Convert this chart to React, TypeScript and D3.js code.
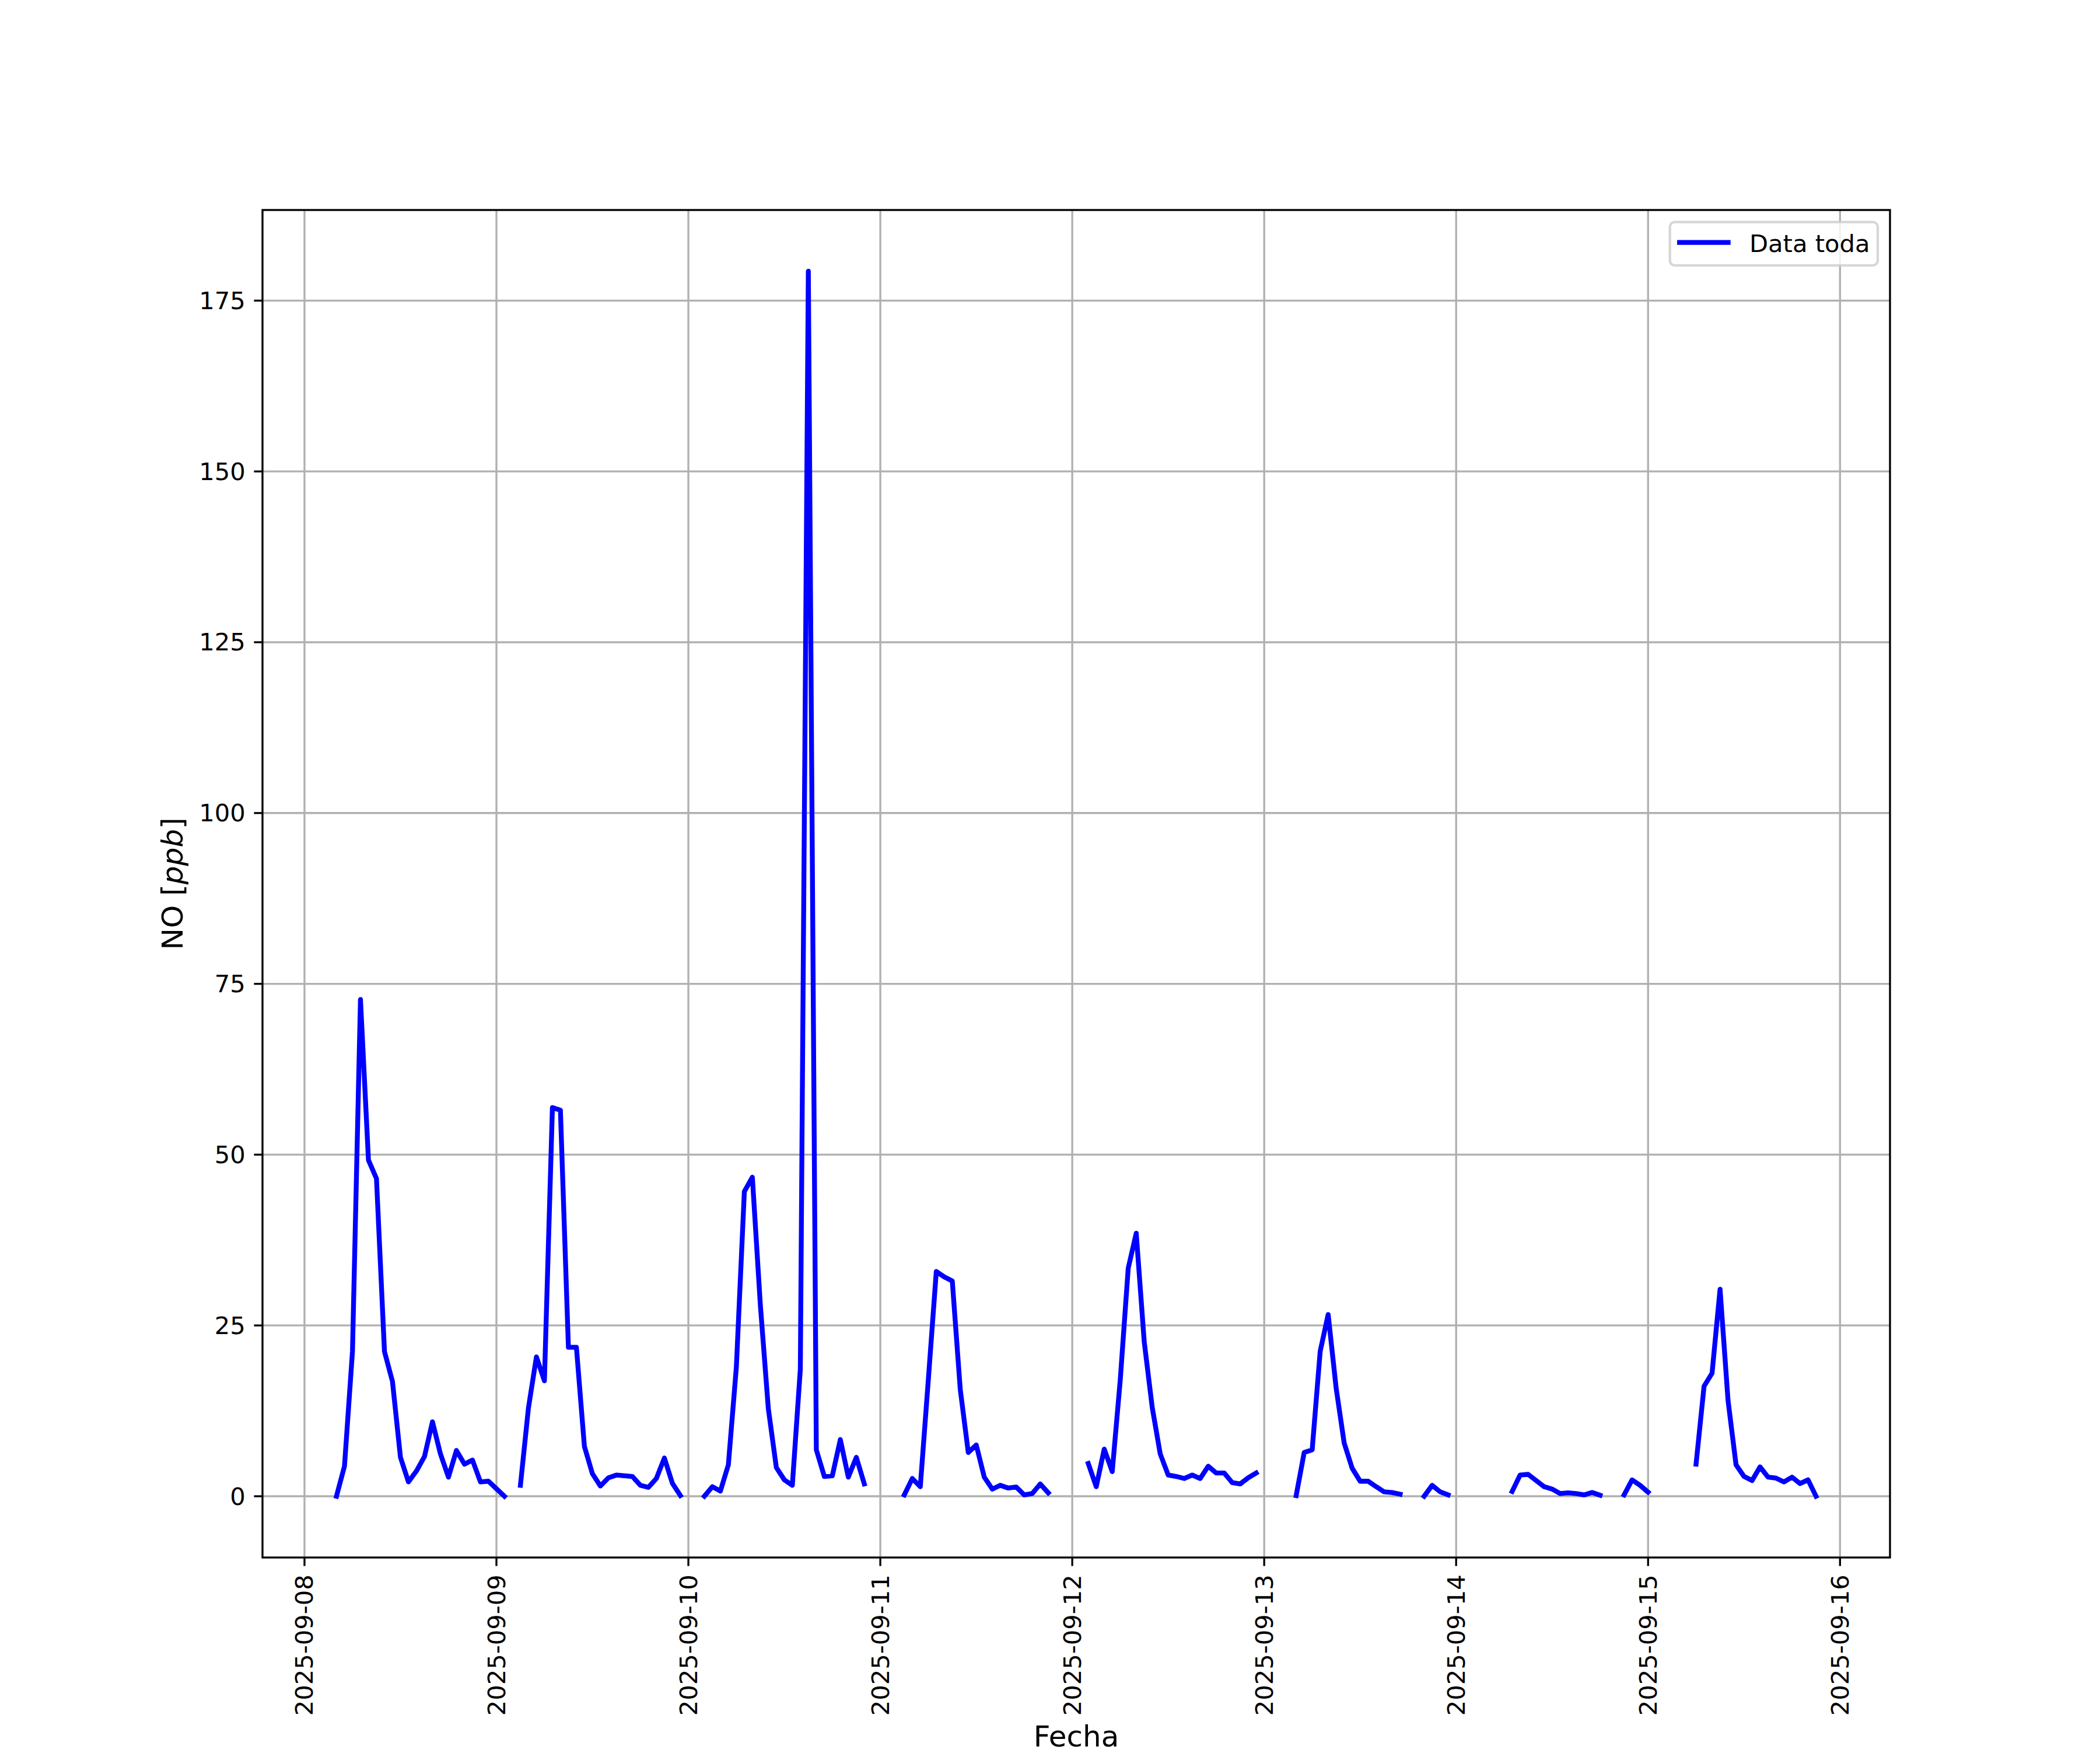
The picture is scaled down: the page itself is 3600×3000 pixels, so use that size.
import React from 'react';
import * as d3 from 'd3';

// Hourly NO [ppb] values, one array per day (00:00 .. 23:00), null = no data
const dayStarts = ['2025-09-08', '2025-09-09', '2025-09-10', '2025-09-11', '2025-09-12', '2025-09-13', '2025-09-14', '2025-09-15'];
const no_0908 = [null, null, null, null, 0, 4.4, 21.2, 72.7, 49.2, 46.5, 21.2, 16.8, 5.7, 2.1, 3.7, 5.8, 10.9, 6.2, 2.8, 6.7, 4.7, 5.3, 2.1, 2.2];
const no_0909 = [1.1, 0, null, 1.6, 12.9, 20.4, 16.9, 56.9, 56.5, 21.8, 21.8, 7.3, 3.3, 1.5, 2.7, 3.1, 3.0, 2.9, 1.6, 1.3, 2.6, 5.6, 1.9, 0.1];
const no_0910 = [null, null, 0, 1.4, 0.75, 4.6, 18.9, 44.6, 46.7, 28.0, 12.8, 4.2, 2.4, 1.6, 18.6, 179.3, 6.8, 2.9, 3.0, 8.3, 2.8, 5.7, 1.8, null];
const no_0911 = [null, null, null, 0.2, 2.6, 1.4, 17.0, 32.9, 32.1, 31.5, 15.6, 6.4, 7.5, 2.8, 1.05, 1.6, 1.2, 1.35, 0.2, 0.4, 1.8, 0.5, null, null];
const no_0912 = [null, null, 4.8, 1.4, 6.9, 3.6, 17.0, 33.4, 38.5, 22.6, 13.0, 6.2, 3.1, 2.9, 2.6, 3.1, 2.6, 4.4, 3.4, 3.4, 2.0, 1.8, 2.7, 3.4];
const no_0913 = [null, null, null, null, 0.1, 6.4, 6.8, 21.2, 26.6, 15.8, 7.8, 4.1, 2.2, 2.2, 1.4, 0.65, 0.55, 0.3, null, null, 0, 1.6, 0.65, 0.2];
const no_0914 = [null, null, null, null, null, null, null, 0.7, 3.1, 3.2, 2.3, 1.4, 1.05, 0.4, 0.5, 0.4, 0.2, 0.55, 0.15, null, null, 0.2, 2.4, 1.6];
const no_0915 = [0.6, null, null, null, null, null, 4.7, 16.1, 18.0, 30.3, 14.0, 4.6, 2.9, 2.3, 4.3, 2.8, 2.65, 2.1, 2.8, 1.85, 2.4, 0.0, null, null];
const dailyValues = [no_0908, no_0909, no_0910, no_0911, no_0912, no_0913, no_0914, no_0915];

const xTickLabels = ['2025-09-08', '2025-09-09', '2025-09-10', '2025-09-11', '2025-09-12', '2025-09-13', '2025-09-14', '2025-09-15', '2025-09-16'];
const yTickValues = [0, 25, 50, 75, 100, 125, 150, 175];

const seriesLabel = 'Data toda';
const xLabel = 'Fecha';

function parseDay(s: string): Date {
  const [y, m, d] = s.split('-').map(Number);
  return new Date(Date.UTC(y, m - 1, d));
}

type Pt = { t: Date; v: number | null };

export default function App() {
  const W = 3600, H = 3000;
  const L = 450, R = 3240, T = 360, B = 2670;
  const fs = 41.67; // 10pt @ 300dpi
  const lfs = 50; // 12pt
  const lw08 = 3.33;

  const points: Pt[] = [];
  dayStarts.forEach((ds, i) => {
    const base = parseDay(ds).getTime();
    dailyValues[i].forEach((v, h) => {
      points.push({ t: new Date(base + h * 3600e3), v: v as number | null });
    });
  });
  const defined = points.filter((p) => p.v != null);
  const tMin = d3.min(defined, (p) => p.t.getTime())!;
  const tMax = d3.max(defined, (p) => p.t.getTime())!;
  const tPad = (tMax - tMin) * 0.05;
  const vMin = d3.min(defined, (p) => p.v as number)!;
  const vMax = d3.max(defined, (p) => p.v as number)!;
  const vPad = (vMax - vMin) * 0.05;

  const x = d3.scaleUtc().domain([new Date(tMin - tPad), new Date(tMax + tPad)]).range([L, R]);
  const y = d3.scaleLinear().domain([vMin - vPad, vMax + vPad]).range([B, T]);

  const line = d3
    .line<Pt>()
    .defined((p) => p.v != null)
    .x((p) => x(p.t))
    .y((p) => y(p.v as number));

  const xTicks = xTickLabels.map((s) => ({ s, t: parseDay(s) }));
  const tickLen = 14.58;
  const pad = 14.58;

  return (
    <svg
      width={W}
      height={H}
      viewBox={`0 0 ${W} ${H}`}
      style={{ position: 'absolute', left: 0, top: 0, display: 'block', background: '#fff' }}
      fontFamily="DejaVu Sans"
    >
      <rect x={0} y={0} width={W} height={H} fill="#fff" />
      <defs>
        <clipPath id="plotclip">
          <rect x={L} y={T} width={R - L} height={B - T} />
        </clipPath>
      </defs>
      {/* grid */}
      <g stroke="#b0b0b0" strokeWidth={lw08}>
        {xTicks.map((d) => (
          <line key={d.s} x1={x(d.t)} x2={x(d.t)} y1={T} y2={B} />
        ))}
        {yTickValues.map((v) => (
          <line key={v} x1={L} x2={R} y1={y(v)} y2={y(v)} />
        ))}
      </g>
      {/* data line */}
      <path
        d={line(points) || ''}
        fill="none"
        stroke="#0000ff"
        strokeWidth={8.33}
        strokeLinejoin="round"
        strokeLinecap="square"
        clipPath="url(#plotclip)"
      />
      {/* spines */}
      <rect x={L} y={T} width={R - L} height={B - T} fill="none" stroke="#000" strokeWidth={lw08} />
      {/* x ticks */}
      <g>
        {xTicks.map((d) => (
          <g key={d.s} transform={`translate(${x(d.t)},0)`}>
            <line x1={0} x2={0} y1={B} y2={B + tickLen} stroke="#000" strokeWidth={lw08} />
            <text
              transform={`translate(0,${B + tickLen + pad}) rotate(-90)`}
              textAnchor="end"
              dominantBaseline="central"
              fontSize={fs}
              fill="#000"
            >
              {d.s}
            </text>
          </g>
        ))}
      </g>
      {/* y ticks */}
      <g>
        {yTickValues.map((v) => (
          <g key={v} transform={`translate(0,${y(v)})`}>
            <line x1={L - tickLen} x2={L} y1={0} y2={0} stroke="#000" strokeWidth={lw08} />
            <text x={L - tickLen - pad} y={0} textAnchor="end" dominantBaseline="central" fontSize={fs} fill="#000">
              {String(v)}
            </text>
          </g>
        ))}
      </g>
      {/* axis labels */}
      <text x={(L + R) / 2} y={2994} textAnchor="middle" fontSize={lfs} fill="#000">
        {xLabel}
      </text>
      <text transform={`translate(313,${(T + B) / 2}) rotate(-90)`} textAnchor="middle" fontSize={lfs} fill="#000">
        NO [<tspan fontStyle="italic">ppb</tspan>]
      </text>
      {/* legend */}
      <g>
        <rect
          x={2862.7}
          y={380.7}
          width={356.3}
          height={74.3}
          rx={8.3}
          fill="#fff"
          fillOpacity={0.8}
          stroke="#cccccc"
          strokeOpacity={0.8}
          strokeWidth={4.17}
        />
        <line x1={2879.2} x2={2962.5} y1={415.7} y2={415.7} stroke="#0000ff" strokeWidth={8.33} strokeLinecap="square" />
        <text x={2999} y={431.7} fontSize={fs} fill="#000">
          {seriesLabel}
        </text>
      </g>
    </svg>
  );
}
